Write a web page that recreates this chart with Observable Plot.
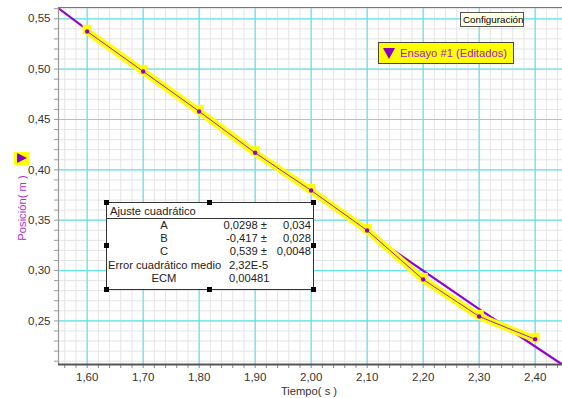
<!DOCTYPE html>
<html>
<head>
<meta charset="utf-8">
<script src="https://cdn.jsdelivr.net/npm/d3@7"></script>
<script src="https://cdn.jsdelivr.net/npm/@observablehq/plot@0.6"></script>
<style>
  body { margin: 0; background: #fff; }
  #wrap { position: relative; width: 562px; height: 398px; overflow: hidden; font-family: "Liberation Sans", Arial, sans-serif; }
  #wrap svg { position: absolute; left: 0; top: 0; }
  .ov { position: absolute; box-sizing: border-box; }
  #config { left: 460px; top: 12px; width: 64px; height: 15px; background: #ffffe1; border: 1px solid #555; font-size: 9.8px; line-height: 13px; padding-left: 2px; color: #000; white-space: nowrap; }
  #legend { left: 378px; top: 42px; width: 136px; height: 22px; background: #ffff00; border: 1px solid #444; font-size: 11.2px; line-height: 20px; color: #a020c8; white-space: nowrap; padding-left: 21px; }
  #legend .tri { position: absolute; left: 4px; top: 5px; width: 0; height: 0; border-left: 6px solid transparent; border-right: 6px solid transparent; border-top: 11px solid #8a00c0; }
  #ylab { left: 22px; top: 208px; transform: translate(-50%,-50%) rotate(-90deg); font-size: 11.2px; color: #b030d0; white-space: nowrap; }
  #ymark { left: 14px; top: 152px; width: 15px; height: 13px; background: #ffff00; }
  #ymark .tri { position: absolute; left: 3px; top: 1px; width: 0; height: 0; border-top: 5.5px solid transparent; border-bottom: 5.5px solid transparent; border-left: 10px solid #8a00c0; }
  #xlab { left: 309px; top: 391px; transform: translate(-50%,-50%); font-size: 11.2px; color: #333; white-space: nowrap; }
  #fitbox { left: 106px; top: 202px; width: 208px; height: 88px; background: #fff; border: 1px solid #333; font-size: 11.2px; color: #222; }
  #fitbox .hdr { position: absolute; left: 0; top: 0; width: 100%; height: 16px; border-bottom: 1px solid #333; box-sizing: border-box; padding-left: 3px; line-height: 16px; }
  #fitbox .t { position: absolute; white-space: nowrap; line-height: 13px; }
  .h { position: absolute; width: 5px; height: 5px; background: #000; }
</style>
</head>
<body>
<div id="wrap"></div>
<script>
// ---- data ----
const times = [1.60, 1.70, 1.80, 1.90, 2.00, 2.10, 2.20, 2.30, 2.40];
const positions = [0.5374, 0.4977, 0.4580, 0.4169, 0.3795, 0.3398, 0.2911, 0.2544, 0.2317];

// quadratic fit curve (A(t-1.6)^2 + B(t-1.6) + C) read as points along the drawn curve
const fitTimes = [1.5488, 1.70, 1.90, 2.10, 2.30, 2.4488];
const fitPositions = [0.5604, 0.4976, 0.4166, 0.3380, 0.2617, 0.2065];

const xTicks = [1.60, 1.70, 1.80, 1.90, 2.00, 2.10, 2.20, 2.30, 2.40];
const yTicks = [0.25, 0.30, 0.35, 0.40, 0.45, 0.50, 0.55];
const xMinor = d3.range(78, 123).map(i => i / 50);
const yMinor = d3.range(21, 57).map(i => i / 100);

const fitRows = [
  ["A", "0,0298 ±", "0,034"],
  ["B", "-0,417 ±", "0,028"],
  ["C", "0,539 ±", "0,0048"]
];
const fitStats = [
  ["Error cuadrático medio", "2,32E-5"],
  ["ECM", "0,00481"]
];

const data = times.map((t, i) => ({t, p: positions[i]}));
const fit = fitTimes.map((t, i) => ({t, p: fitPositions[i]}));

const xDom = [1.5488, 2.4488];
const yDom = [0.2067, 0.5612];
const fmt = d => d.toFixed(2).replace(".", ",");
const isMajX = d => Math.round(d * 50) % 5 === 0;
const isMajY = d => Math.round(d * 100) % 5 === 0;

const chart = Plot.plot({
  width: 562, height: 398,
  marginLeft: 58, marginRight: 0, marginTop: 7, marginBottom: 34,
  x: {domain: xDom},
  y: {domain: yDom},
  style: {fontFamily: "'Liberation Sans', Arial, sans-serif", fontSize: "11.5px", color: "#333", background: "white"},
  marks: [
    Plot.ruleX(xMinor, {stroke: "#e4e4e4", strokeWidth: 1}),
    Plot.ruleY(yMinor, {stroke: "#e4e4e4", strokeWidth: 1}),
    Plot.ruleX(xTicks, {stroke: "#62e2ee", strokeWidth: 1.2}),
    Plot.ruleY(yTicks, {stroke: "#62e2ee", strokeWidth: 1.2}),
    Plot.line(fit, {x: "t", y: "p", stroke: "#9400cc", strokeWidth: 2.2, clip: true}),
    Plot.line(data, {x: "t", y: "p", stroke: "#ffff00", strokeWidth: 7}),
    Plot.dot(data, {x: "t", y: "p", symbol: "square", r: 5.2, fill: "#ffff00", dy: -2}),
    Plot.line(data, {x: "t", y: "p", stroke: "#a020d8", strokeWidth: 1}),
    Plot.dot(data, {x: "t", y: "p", r: 2.2, fill: "#9400cc"}),
    Plot.axisX({ticks: xMinor, tickSize: 4, tickPadding: 4, stroke: "#888", tickFormat: d => isMajX(d) ? fmt(d) : "", label: null}),
    Plot.axisY({ticks: yMinor, tickSize: 4, tickPadding: 4, stroke: "#999", tickFormat: d => isMajY(d) ? fmt(d) : "", label: null}),
    Plot.ruleX([xDom[0]], {stroke: "#999", strokeWidth: 1.2}),
    Plot.ruleY([yDom[1]], {stroke: "#777", strokeWidth: 1}),
    Plot.ruleY([yDom[0]], {stroke: "#555", strokeWidth: 2})
  ]
});

const wrap = document.getElementById("wrap");
wrap.appendChild(chart);

function add(html) { wrap.insertAdjacentHTML("beforeend", html); }
add('<div class="ov" id="config">Configuración</div>');
add('<div class="ov" id="legend"><span class="tri"></span>Ensayo #1 (Editados)</div>');
add('<div class="ov" id="ymark"><span class="tri"></span></div>');
add('<div class="ov" id="ylab">Posición( m )</div>');
add('<div class="ov" id="xlab">Tiempo( s )</div>');

let box = '<div class="ov" id="fitbox"><div class="hdr">Ajuste cuadrático</div>';
const rowTops = [16, 29, 42];
fitRows.forEach((r, i) => {
  box += `<div class="t" style="left:57px;top:${rowTops[i]}px;transform:translateX(-50%)">${r[0]}</div>`;
  box += `<div class="t" style="right:46px;top:${rowTops[i]}px">${r[1]}</div>`;
  box += `<div class="t" style="right:2px;top:${rowTops[i]}px">${r[2]}</div>`;
});
const statTops = [56, 69];
fitStats.forEach((r, i) => {
  const lx = i === 0 ? 'left:1px' : 'left:57px;transform:translateX(-50%)';
  box += `<div class="t" style="${lx};top:${statTops[i]}px">${r[0]}</div>`;
  box += `<div class="t" style="left:122px;top:${statTops[i]}px">${r[1]}</div>`;
});
box += '</div>';
add(box);
[[106,202],[209.5,202],[313,202],[106,245.5],[313,245.5],[106,289],[209.5,289],[313,289]].forEach(([x,y]) => {
  add(`<div class="h" style="left:${x-2.5}px;top:${y-2.5}px"></div>`);
});
</script>
</body>
</html>
